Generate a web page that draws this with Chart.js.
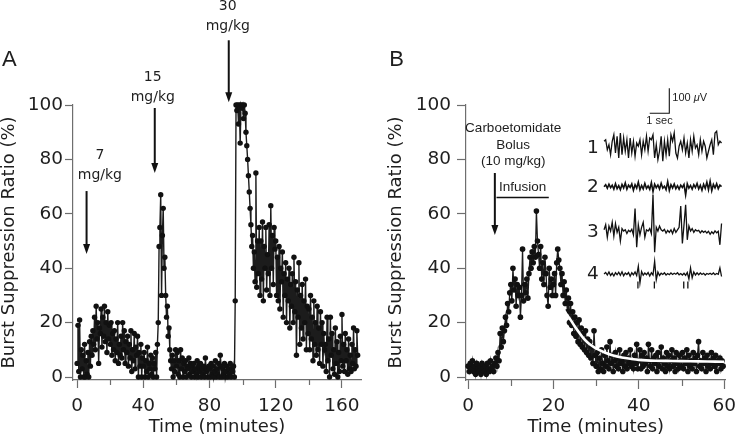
<!DOCTYPE html>
<html><head><meta charset="utf-8">
<script src="https://cdn.jsdelivr.net/npm/chart.js@4/dist/chart.umd.min.js"></script>
<style>
html,body{margin:0;padding:0;background:#fff;}
#wrap{position:relative;width:742px;height:440px;overflow:hidden;background:#fff;}
canvas{position:absolute;top:0;}
#cA{left:0;} #cB{left:371px;}
</style></head><body>
<div id="wrap"><canvas id="cA" width="371" height="440"></canvas><canvas id="cB" width="371" height="440"></canvas></div>
<script>
// ---------------- DATA ----------------
// Panel A: burst suppression ratio (%) sampled every 0.5 min from t = 0
const STEP_A_MIN = 0.5;
const burstA = [
  5,19,2,21,0,10,3,8,0,12,0,6,1,9,0,13,4,15,8,17,
  12,22,10,26,14,20,5,18,16,25,11,22,15,26,13,20,9,24,14,19,
  12,20,8,16,10,17,6,14,9,20,5,12,8,15,7,20,10,17,5,13,
  9,15,4,12,7,17,2,10,6,16,3,11,8,15,0,9,4,12,0,7,
  4,9,0,6,2,11,0,5,3,8,1,7,0,5,3,9,0,12,20,48,
  55,67,30,52,62,40,44,30,22,26,15,18,10,6,3,8,0,6,2,10,
  4,9,1,6,0,10,3,7,0,5,2,6,0,4,3,7,1,5,0,4,
  2,5,0,3,1,6,0,4,2,5,0,3,1,4,0,7,2,3,0,4,
  3,0,5,1,4,0,2,6,0,3,1,5,0,8,4,0,3,1,5,0,
  2,4,0,3,1,5,0,3,2,4,0,28,100,98,100,93,100,86,100,99,
  100,95,100,97,90,85,80,74,68,62,56,48,52,40,46,35,75,33,50,38,
  55,30,50,36,57,28,48,40,55,32,45,38,56,30,63,40,52,34,55,47,
  50,30,44,28,48,25,40,35,46,22,38,30,42,20,36,28,40,18,34,26,
  38,20,44,24,35,8,32,22,42,12,30,18,34,14,28,20,36,10,26,16,
  25,10,30,14,22,6,28,12,20,8,26,10,18,5,24,12,20,4,16,10,
  12,2,22,6,14,0,22,8,16,3,10,1,18,5,13,0,9,2,15,6,
  23,4,12,2,16,6,10,1,14,3,8,2,12,5,18,3,10,4,17,8
];
// Panel B: burst suppression ratio (%) sampled every 0.25 min from t = 0
const STEP_B_MIN = 0.25;
const burstB = [
  4,2,5,3,6,2,4,1,5,3,2,4,1,5,3,2,4,1,5,3,2,6,3,4,2,5,7,4,9,6,16,11,18,13,17,22,19,27,24,31,
  34,28,40,32,36,26,34,30,33,22,30,47,28,34,31,36,29,38,44,40,46,42,48,44,61,50,45,40,48,36,42,34,44,38,30,26,40,33,36,30,
  34,38,30,42,47,43,40,34,38,30,35,27,32,24,29,20,27,19,24,16,22,15,20,13,21,12,18,11,16,10,17,9,14,8,13,7,11,5,17,8,
  4,9,2,7,3,10,5,2,8,4,11,6,3,13,5,8,2,6,9,4,7,3,10,5,6,2,8,4,9,3,7,5,10,4,6,3,8,5,12,3,
  6,10,3,8,4,9,5,7,2,12,6,4,10,3,7,5,8,2,9,4,6,11,3,7,5,2,9,4,8,3,6,10,4,7,2,9,5,3,8,6,
  4,9,3,7,5,10,2,8,4,6,3,9,5,7,2,8,13,4,6,3,9,5,7,2,8,4,6,3,9,5,7,4,8,2,6,5,7,3,6,4
];
// Panel B: exponential fit (white curve)
const fitTimeB = [21.3,22,23,24,25,26,27,28,29,30,32,34,36,38,40,44,48,52,56,60];
const fitValB  = [27.7,25.8,23.2,21.0,18.6,16.4,14.3,12.7,11.5,10.5,9.0,7.9,7.2,6.7,6.3,6.0,5.9,5.8,5.7,5.6];

// EEG example traces (µV), 6 s each
const TRACE_SEC = 6;
const traceLabels = ['1','2','3','4'];
const eeg1 = [27,33,-7,13,-27,27,53,-20,47,-40,60,-27,40,-13,33,-40,40,-20,27,-33,20,7,33,-27,27,-7,47,-13,40,33,53,-40,13,-47,-13,47,-53,27,-27,33,-33,53,27,60,-20,-40,7,27,-7,40,-20,20,-40,33,-13,47,0,13,-27,33,-13,27,7,-40,-13,13,33,-27,60,67,13,27,20];
const eeg2 = [0,8,-6,10,-4,6,-10,12,-8,4,-12,9,-5,15,-10,6,-3,11,-14,8,-6,18,-12,5,-9,13,-7,3,-11,16,-20,10,-4,7,-9,14,-6,2,-12,20,-15,8,-5,11,-8,4,-10,6,-3,9,-33,12,-6,5,-10,8,-4,13,-9,6,-14,10,-7,18,-12,22,-16,9,-5,12,-8,6,0];
const eeg3 = [10,30,-20,25,5,40,-15,35,0,20,-35,15,5,10,-5,8,2,12,-10,95,-60,30,-10,20,40,-20,10,5,15,-5,150,-80,20,5,25,10,5,12,-3,8,0,10,-5,15,0,10,20,105,-45,30,110,-30,25,5,15,0,10,5,8,-2,6,0,5,-3,4,-8,2,-5,6,-2,4,-50,35];
const eeg4 = [0,6,-4,8,-6,3,-8,5,-3,7,-5,9,-7,4,-2,6,-9,5,-3,8,-6,31,-36,10,-5,4,-3,6,-8,5,-4,51,-23,8,-6,3,-2,5,-4,2,-3,4,-2,3,-1,5,-3,2,-4,3,-5,6,-20,24,-15,8,-4,5,-3,4,-2,3,-4,2,-1,3,-2,4,-3,2,-1,24,-10];
const eegEvents4 = [1.73, 2.57, 4.07, 4.28]; // s, markers under trace 4
const SCALE_SEC = 1, SCALE_UV = 100;

// Axis ticks
const yTickVals = [0,20,40,60,80,100];
const xMajorA = [0,40,80,120,160];
const xMinorA = [20,60,100,140];
const xMajorB = [0,20,40,60];
const xMinorB = [10,30,50];

// Annotations (dose times in minutes, tip values in %)
const doseLabelsA = ['7','15','30'];
const doseTimesA = [5.7, 46.9, 91.6];
const doseTipA = [45.2, 75, 101];
const doseUnit = 'mg/kg';
const bolusLinesB = ['Carboetomidate','Bolus','(10 mg/kg)'];
const bolusTimeB = 6.26, bolusTipB = 52.2;
const infusionLabelB = 'Infusion';
const infusionStartB = 6.65, infusionEndB = 18.9, infusionLevelB = 66;

// ---------------- STYLE / LAYOUT ----------------
const INK = '#111111', AXIS = '#6e6e6e', TXT = '#1e1e1e';
const TICK_FONT = {family:'"DejaVu Sans"', size:18.5};
const TITLE_FONT = {family:'"DejaVu Sans"', size:18, lineHeight:1};
const CA_B = {left:95, right:360, top:105, bottom:380};
const TRACE_X0 = 236, PX_PER_SEC = 20, PX_PER_UV = 0.25;
const TRACE_BASE = [148, 186.7, 232.3, 274];

function drawArrow(ctx, x, y0, y1){
  const hl = 10, hw = 7;
  ctx.lineWidth = 2;
  ctx.beginPath(); ctx.moveTo(x, y0); ctx.lineTo(x, y1 - hl + 1); ctx.stroke();
  ctx.beginPath(); ctx.moveTo(x - hw/2, y1 - hl); ctx.lineTo(x + hw/2, y1 - hl); ctx.lineTo(x, y1); ctx.closePath(); ctx.fill();
}
function minorTicks(ctx, xs, vals, len){
  ctx.strokeStyle = AXIS; ctx.lineWidth = 1.2;
  const y0 = xs.top;
  vals.forEach(v => { const p = Math.round(xs.getPixelForValue(v)) + 0.5; ctx.beginPath(); ctx.moveTo(p, y0); ctx.lineTo(p, y0 + len); ctx.stroke(); });
}

function axisX(min, max, majors, tl, pad){
  return {
    type:'linear', min, max,
    afterBuildTicks: s => { s.ticks = majors.map(v => ({value:v})); },
    afterFit: s => { s.height = 60; },
    grid:{drawOnChartArea:false, drawTicks:true, tickLength:tl, tickColor:AXIS, tickWidth:1.2},
    border:{display:true, color:AXIS, width:1.2},
    ticks:{font:TICK_FONT, color:TXT, padding:pad, maxRotation:0, autoSkip:false},
    title:{display:true, text:'Time (minutes)', font:TITLE_FONT, color:TXT, padding:{top:0,bottom:4}}
  };
}
function axisY(width, tl, pad, titlePad){
  return {
    type:'linear', min:-1.1, max:100,
    afterBuildTicks: s => { s.ticks = yTickVals.map(v => ({value:v})); },
    afterFit: s => { s.width = width; },
    grid:{drawOnChartArea:false, drawTicks:true, tickLength:tl, tickColor:AXIS, tickWidth:1.2},
    border:{display:true, color:AXIS, width:1.2},
    ticks:{font:TICK_FONT, color:TXT, padding:pad},
    title:{display:true, text:'Burst Suppression Ratio (%)', font:TITLE_FONT, color:TXT, padding:{top:titlePad,bottom:0}}
  };
}
function pointStyle(r, lw){
  return {
    borderColor:'#1c1c1c', borderWidth:lw, pointRadius:r, pointBackgroundColor:INK,
    pointBorderWidth:0, pointHoverRadius:r, tension:0, clip:8
  };
}

// ---------------- CHART A ----------------
const timeA = burstA.map((_, i) => i * STEP_A_MIN);
const annotA = {
  id:'annotA',
  afterDraw(chart){
    const {ctx, scales:{x, y}} = chart;
    ctx.save();
    minorTicks(ctx, x, xMinorA, 5);
    ctx.fillStyle = INK; ctx.strokeStyle = INK;
    const len = [63, 65, 62], gap = [15.7, 11, 14], dx = [13.3, -2, -1];
    doseTimesA.forEach((t, i) => {
      const px = x.getPixelForValue(t);
      const tip = y.getPixelForValue(doseTipA[i]);
      const top = tip - len[i];
      drawArrow(ctx, px, top, tip);
      ctx.fillStyle = TXT;
      ctx.font = '14px "DejaVu Sans"'; ctx.textAlign = 'center'; ctx.textBaseline = 'middle';
      ctx.fillText(doseUnit, px + dx[i], top - gap[i]);
      ctx.fillText(doseLabelsA[i], px + dx[i], top - gap[i] - 20);
      ctx.fillStyle = INK;
    });
    ctx.fillStyle = TXT;
    ctx.font = '22px "Liberation Sans"'; ctx.textAlign = 'left'; ctx.textBaseline = 'alphabetic';
    ctx.fillText('A', 2, 66);
    ctx.restore();
  }
};
new Chart(document.getElementById('cA'), {
  type:'line',
  data:{datasets:[Object.assign({data: timeA.map((t, i) => ({x:t, y:burstA[i]}))}, pointStyle(2.7, 1.4))]},
  options:{
    responsive:false, animation:false, devicePixelRatio:1,
    layout:{padding:{left:0, top:105, right:10, bottom:0}, autoPadding:false},
    plugins:{legend:{display:false}, tooltip:{enabled:false}},
    scales:{ x: axisX(-2.5, 171.5, xMajorA, 8, 7), y: axisY(73, 8, 2, 0) }
  },
  plugins:[annotA]
});

// ---------------- CHART B ----------------
const timeB = burstB.map((_, i) => i * STEP_B_MIN);
const traces = [eeg1, eeg2, eeg3, eeg4];
const xtMin = -(TRACE_X0 - CA_B.left) / PX_PER_SEC;
const xtMax = xtMin + (CA_B.right - CA_B.left) / PX_PER_SEC;
const hiddenScales = { xt: {type:'linear', display:false, min:xtMin, max:xtMax} };
TRACE_BASE.forEach((b, k) => {
  const mx = (b - CA_B.top) / PX_PER_UV;
  hiddenScales['yt' + (k + 1)] = {type:'linear', display:false, max:mx, min: mx - (CA_B.bottom - CA_B.top) / PX_PER_UV};
});
const datasetsB = [];
datasetsB.push({data: fitTimeB.map((t, i) => ({x:t, y:fitValB[i]})), borderColor:'#ffffff', borderWidth:2.6, pointRadius:0, tension:0.3, order:1, clip:8});
datasetsB.push(Object.assign({data: timeB.map((t, i) => ({x:t, y:burstB[i]})), order:2}, pointStyle(2.8, 1.3)));
traces.forEach((tr, k) => {
  const dt = TRACE_SEC / (tr.length - 1);
  datasetsB.push({data: tr.map((v, i) => ({x:i * dt, y:v})), xAxisID:'xt', yAxisID:'yt' + (k + 1),
    borderColor:INK, borderWidth:k === 1 ? 1.6 : 1.3, pointRadius:0, tension:0, order:0, clip:false});
});
datasetsB.push({type:'scatter', data: eegEvents4.map(t => ({x:t, y:-44})), xAxisID:'xt', yAxisID:'yt4',
  pointStyle:'line', rotation:90, pointRadius:3.5, borderColor:INK, pointBorderWidth:1.3, order:0, clip:false});

const annotB = {
  id:'annotB',
  afterDraw(chart){
    const {ctx, scales} = chart;
    const x = scales.x, y = scales.y, xt = scales.xt, yt1 = scales.yt1;
    ctx.save();
    minorTicks(ctx, x, xMinorB, 6);
    ctx.fillStyle = INK; ctx.strokeStyle = INK;
    const px = x.getPixelForValue(bolusTimeB);
    const tip = y.getPixelForValue(bolusTipB);
    const top = tip - 62;
    drawArrow(ctx, px, top, tip);
    ctx.fillStyle = TXT;
    ctx.font = '13.5px "Liberation Sans"'; ctx.textAlign = 'center'; ctx.textBaseline = 'middle';
    const offs = [-45, -28, -12];
    bolusLinesB.forEach((s, i) => ctx.fillText(s, px + 18.3, top + offs[i]));
    const ix0 = x.getPixelForValue(infusionStartB), ix1 = x.getPixelForValue(infusionEndB);
    const iy = y.getPixelForValue(infusionLevelB);
    ctx.lineWidth = 1.6; ctx.strokeStyle = INK;
    ctx.beginPath(); ctx.moveTo(ix0, iy); ctx.lineTo(ix1, iy); ctx.stroke();
    ctx.fillText(infusionLabelB, (ix0 + ix1) / 2, iy - 10);
    ctx.font = '18.5px "DejaVu Sans"'; ctx.textAlign = 'center'; ctx.textBaseline = 'middle';
    traceLabels.forEach((l, k) => ctx.fillText(l, 222, scales['yt' + (k + 1)].getPixelForValue(0)));
    const sw = xt.getPixelForValue(SCALE_SEC) - xt.getPixelForValue(0);
    const sh = yt1.getPixelForValue(0) - yt1.getPixelForValue(SCALE_UV);
    const cx = 298.3, cy = 113.3;
    ctx.lineWidth = 1.1;
    ctx.beginPath(); ctx.moveTo(cx - sw, cy); ctx.lineTo(cx, cy); ctx.lineTo(cx, cy - sh); ctx.stroke();
    ctx.font = '11px "Liberation Sans"'; ctx.textAlign = 'center'; ctx.textBaseline = 'middle';
    ctx.fillText(SCALE_SEC + ' sec', cx - sw / 2, cy + 8);
    ctx.textAlign = 'left';
    const t1 = SCALE_UV + ' ';
    ctx.fillText(t1, cx + 3, cy - sh / 2 - 3);
    let wx = cx + 3 + ctx.measureText(t1).width;
    ctx.font = 'italic 11px "Liberation Sans"';
    ctx.fillText('\u03bc', wx, cy - sh / 2 - 3);
    wx += ctx.measureText('\u03bc').width;
    ctx.font = '11px "Liberation Sans"';
    ctx.fillText('V', wx, cy - sh / 2 - 3);
    ctx.font = '22px "Liberation Sans"'; ctx.textAlign = 'left'; ctx.textBaseline = 'alphabetic';
    ctx.fillText('B', 18.3, 66);
    ctx.restore();
  }
};
new Chart(document.getElementById('cB'), {
  type:'line',
  data:{datasets:datasetsB},
  options:{
    responsive:false, animation:false, devicePixelRatio:1,
    layout:{padding:{left:0, top:CA_B.top, right:371 - CA_B.right, bottom:0}, autoPadding:false},
    plugins:{legend:{display:false}, tooltip:{enabled:false}},
    scales:Object.assign({ x: axisX(-0.5, 60.3, xMajorB, 9, 6), y: axisY(CA_B.left, 9, 6, 16.5) }, hiddenScales)
  },
  plugins:[annotB]
});
</script></body></html>
